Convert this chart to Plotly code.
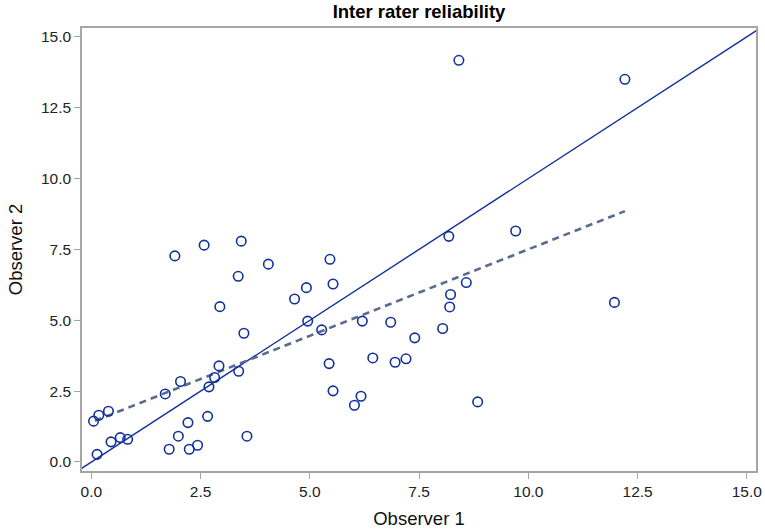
import plotly.graph_objects as go

# Observer ratings
observer_1 = [
    0.05, 0.17, 0.39, 0.13, 0.45, 0.66, 0.83, 1.69, 2.04, 1.78,
    1.99, 2.21, 2.24, 2.43, 2.66, 2.69, 2.82, 2.92, 2.94, 3.36,
    3.37, 3.49, 3.56, 1.91, 2.58, 3.43, 4.05, 4.65, 4.92, 4.95,
    5.27, 5.46, 5.53, 5.44, 5.53, 6.02, 6.17, 6.20, 6.44, 6.85,
    6.95, 7.20, 7.40, 8.04, 8.20, 8.22, 8.58, 8.84, 8.18, 9.71,
    8.41, 12.21, 11.97,
]
observer_2 = [
    1.44, 1.65, 1.79, 0.27, 0.71, 0.86, 0.80, 2.40, 2.84, 0.45,
    0.91, 1.39, 0.45, 0.59, 1.61, 2.65, 2.98, 3.39, 5.48, 6.55,
    3.20, 4.54, 0.91, 7.27, 7.65, 7.79, 6.98, 5.75, 6.15, 4.97,
    4.66, 7.15, 6.28, 3.47, 2.51, 2.00, 2.32, 4.97, 3.67, 4.93,
    3.52, 3.64, 4.38, 4.71, 5.47, 5.91, 6.33, 2.12, 7.96, 8.15,
    14.17, 13.50, 5.63,
]

# Line of identity and fitted line (ends)
identity = [-0.3, 15.3]
fit_x = [0.08, 12.21]
fit_y = [1.45, 8.85]

tick_vals = [0, 2.5, 5, 7.5, 10, 12.5, 15]

blue = "#12309a"
grey = "#a6a6a6"

fig = go.Figure()
fig.add_trace(
    go.Scatter(
        x=identity, y=identity, mode="lines",
        line=dict(color=blue, width=1.4),
    )
)
fig.add_trace(
    go.Scatter(
        x=fit_x, y=fit_y, mode="lines",
        line=dict(color="#5a6b8c", width=2.6, dash="7px,5px"),
    )
)
fig.add_trace(
    go.Scatter(
        x=observer_1, y=observer_2, mode="markers",
        marker=dict(symbol="circle-open", size=9.5, color=blue, line=dict(width=1.6)),
    )
)

axis_style = dict(
    tickvals=tick_vals,
    tickformat=".1f",
    showgrid=False,
    zeroline=False,
    showline=True,
    mirror=True,
    linecolor=grey,
    linewidth=1.5,
    ticks="outside",
    ticklen=6,
    tickcolor=grey,
    tickfont=dict(size=15.5, color="#222222"),
    automargin=False,
)

fig.update_layout(
    width=765,
    height=529,
    showlegend=False,
    plot_bgcolor="white",
    paper_bgcolor="white",
    font=dict(family="Liberation Sans, Arial, sans-serif", color="#111111"),
    title=dict(
        text="<b>Inter rater reliability</b>",
        x=(82 + 756) / 2 / 765, xanchor="center",
        y=0.99, yanchor="top",
        font=dict(size=18.5, color="black"),
    ),
    margin=dict(l=82, r=9, t=28, b=58),
    xaxis=dict(
        range=[-0.215, 15.21],
        title=dict(text="Observer 1", font=dict(size=18.5), standoff=15),
        **axis_style,
    ),
    yaxis=dict(
        range=[-0.318, 15.31],
        title=dict(text="Observer 2", font=dict(size=18.5), standoff=14),
        **axis_style,
    ),
)

# drop the page's default body margin so the figure sits at the window corner
fig.write_html(
    "out.html",
    config={"displayModeBar": False},
    post_script="document.body.style.margin = '0';",
)
